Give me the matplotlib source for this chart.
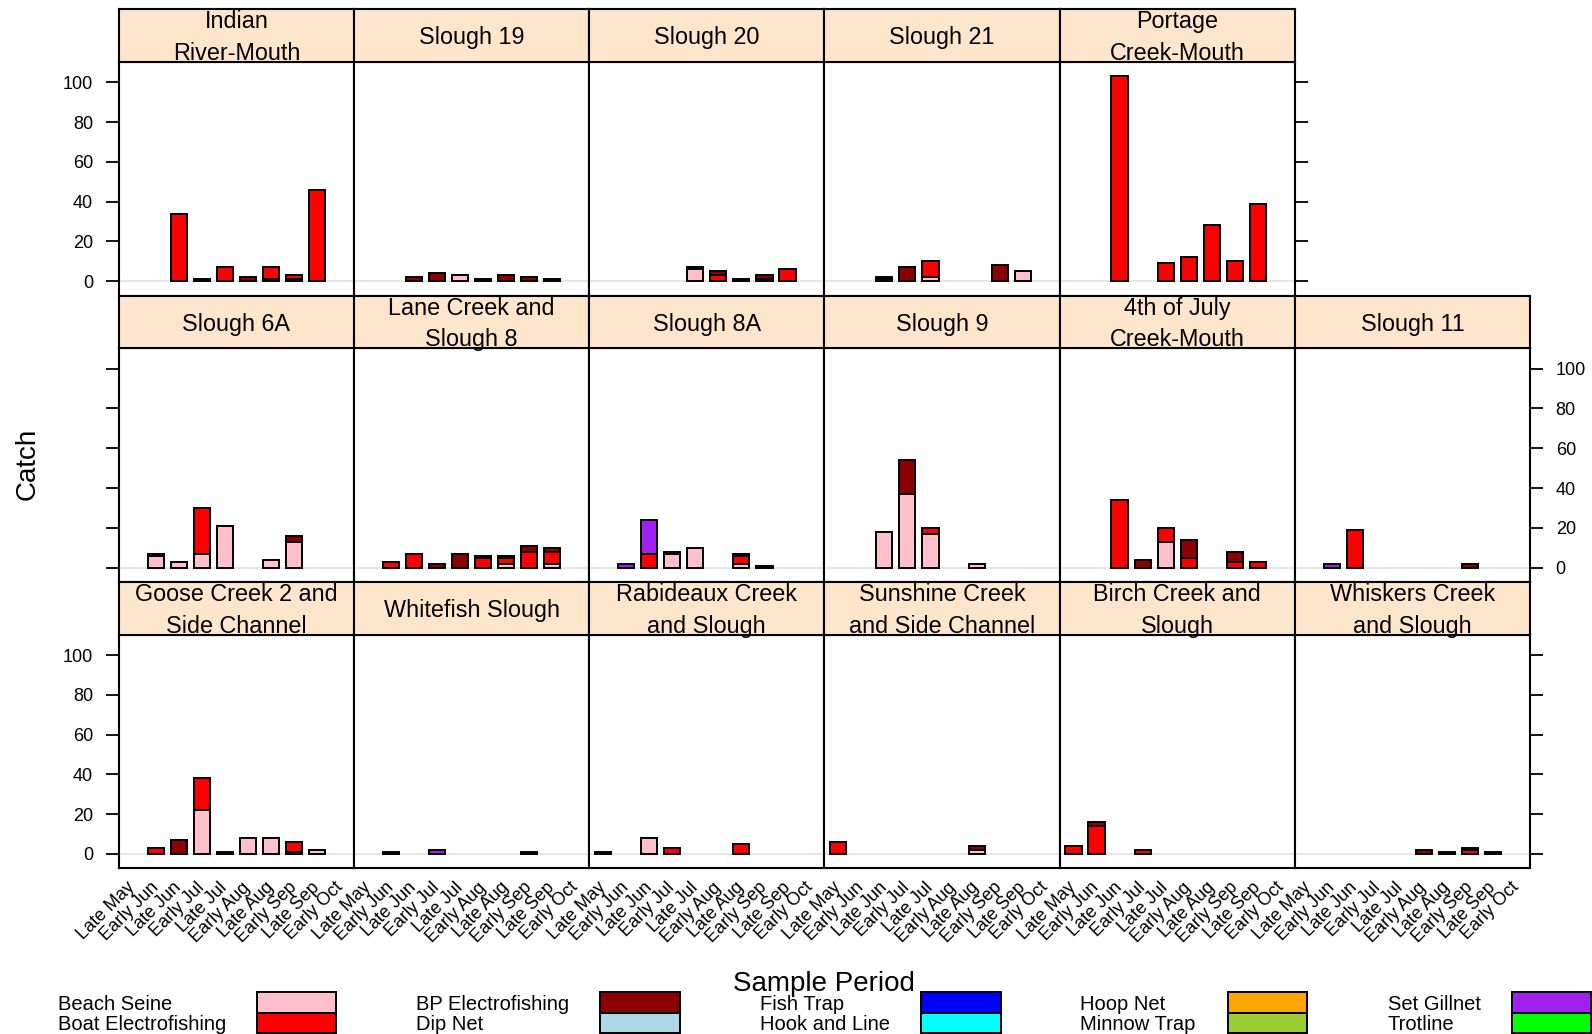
import matplotlib
matplotlib.use("Agg")
import matplotlib.pyplot as plt
import numpy as np
from matplotlib.patches import Rectangle

plt.rcParams["font.family"] = ["Liberation Sans", "DejaVu Sans"]

# sample periods (x categories)
periods = ["Late May", "Early Jun", "Late Jun", "Early Jul", "Late Jul",
           "Early Aug", "Late Aug", "Early Sep", "Late Sep", "Early Oct"]

# gear types, in stacking order, with their colours
gears = ["Beach Seine", "Boat Electrofishing", "BP Electrofishing", "Dip Net",
         "Fish Trap", "Hook and Line", "Hoop Net", "Minnow Trap",
         "Set Gillnet", "Trotline"]
gear_colors = ["#FFC0CB", "#FF0000", "#8B0000", "#ADD8E6", "#0000FF",
               "#00FFFF", "#FFA500", "#9ACD32", "#A020F0", "#00FF00"]

# catch per site: gear -> counts per sample period
indian_river = {
    "Beach Seine":         [0, 0, 0, 0, 0, 0, 1, 1, 0, 0],
    "Boat Electrofishing": [0, 0, 34, 1, 7, 0, 6, 2, 46, 0],
    "BP Electrofishing":   [0, 0, 0, 0, 0, 2, 0, 0, 0, 0],
}
slough_19 = {
    "Beach Seine":         [0, 0, 0, 0, 3, 0, 0, 0, 0, 0],
    "Boat Electrofishing": [0, 0, 0, 0, 0, 1, 0, 0, 1, 0],
    "BP Electrofishing":   [0, 0, 2, 4, 0, 0, 3, 2, 0, 0],
}
slough_20 = {
    "Beach Seine":         [0, 0, 0, 0, 6, 0, 0, 0, 0, 0],
    "Boat Electrofishing": [0, 0, 0, 0, 0, 3, 1, 1, 6, 0],
    "BP Electrofishing":   [0, 0, 0, 0, 1, 2, 0, 2, 0, 0],
}
slough_21 = {
    "Beach Seine":         [0, 0, 0, 0, 2, 0, 0, 0, 5, 0],
    "Boat Electrofishing": [0, 0, 1, 0, 8, 0, 0, 0, 0, 0],
    "BP Electrofishing":   [0, 0, 1, 7, 0, 0, 0, 8, 0, 0],
}
portage_creek = {
    "Boat Electrofishing": [0, 0, 103, 0, 9, 12, 28, 10, 39, 0],
}
slough_6a = {
    "Beach Seine":         [0, 6, 3, 7, 21, 0, 4, 13, 0, 0],
    "Boat Electrofishing": [0, 0, 0, 23, 0, 0, 0, 0, 0, 0],
    "BP Electrofishing":   [0, 1, 0, 0, 0, 0, 0, 3, 0, 0],
}
lane_creek = {
    "Beach Seine":         [0, 0, 0, 0, 0, 0, 2, 0, 2, 0],
    "Boat Electrofishing": [0, 3, 7, 0, 0, 5, 3, 8, 6, 0],
    "BP Electrofishing":   [0, 0, 0, 2, 7, 1, 1, 3, 2, 0],
}
slough_8a = {
    "Beach Seine":         [0, 0, 0, 7, 10, 0, 2, 0, 0, 0],
    "Boat Electrofishing": [0, 0, 7, 0, 0, 0, 4, 1, 0, 0],
    "BP Electrofishing":   [0, 0, 0, 1, 0, 0, 1, 0, 0, 0],
    "Set Gillnet":         [0, 2, 17, 0, 0, 0, 0, 0, 0, 0],
}
slough_9 = {
    "Beach Seine":         [0, 0, 18, 37, 17, 0, 2, 0, 0, 0],
    "Boat Electrofishing": [0, 0, 0, 0, 3, 0, 0, 0, 0, 0],
    "BP Electrofishing":   [0, 0, 0, 17, 0, 0, 0, 0, 0, 0],
}
fourth_of_july = {
    "Beach Seine":         [0, 0, 0, 0, 13, 0, 0, 0, 0, 0],
    "Boat Electrofishing": [0, 0, 34, 0, 7, 5, 0, 3, 3, 0],
    "BP Electrofishing":   [0, 0, 0, 4, 0, 9, 0, 5, 0, 0],
}
slough_11 = {
    "Boat Electrofishing": [0, 0, 19, 0, 0, 0, 0, 0, 0, 0],
    "BP Electrofishing":   [0, 0, 0, 0, 0, 0, 0, 2, 0, 0],
    "Set Gillnet":         [0, 2, 0, 0, 0, 0, 0, 0, 0, 0],
}
goose_creek = {
    "Beach Seine":         [0, 0, 0, 22, 0, 8, 8, 1, 2, 0],
    "Boat Electrofishing": [0, 3, 0, 16, 1, 0, 0, 5, 0, 0],
    "BP Electrofishing":   [0, 0, 7, 0, 0, 0, 0, 0, 0, 0],
}
whitefish = {
    "Boat Electrofishing": [0, 1, 0, 0, 0, 0, 0, 1, 0, 0],
    "Set Gillnet":         [0, 0, 0, 2, 0, 0, 0, 0, 0, 0],
}
rabideaux = {
    "Beach Seine":         [0, 0, 8, 0, 0, 0, 0, 0, 0, 0],
    "Boat Electrofishing": [1, 0, 0, 3, 0, 0, 5, 0, 0, 0],
}
sunshine = {
    "Beach Seine":         [0, 0, 0, 0, 0, 0, 2, 0, 0, 0],
    "Boat Electrofishing": [6, 0, 0, 0, 0, 0, 0, 0, 0, 0],
    "BP Electrofishing":   [0, 0, 0, 0, 0, 0, 2, 0, 0, 0],
}
birch_creek = {
    "Boat Electrofishing": [4, 14, 0, 2, 0, 0, 0, 0, 0, 0],
    "BP Electrofishing":   [0, 2, 0, 0, 0, 0, 0, 0, 0, 0],
}
whiskers_creek = {
    "Boat Electrofishing": [0, 0, 0, 0, 0, 0, 1, 2, 1, 0],
    "BP Electrofishing":   [0, 0, 0, 0, 0, 2, 0, 1, 0, 0],
}

# panels, top row first
rows = [
    [("Indian\nRiver-Mouth", indian_river), ("Slough 19", slough_19),
     ("Slough 20", slough_20), ("Slough 21", slough_21),
     ("Portage\nCreek-Mouth", portage_creek)],
    [("Slough 6A", slough_6a), ("Lane Creek and\nSlough 8", lane_creek),
     ("Slough 8A", slough_8a), ("Slough 9", slough_9),
     ("4th of July\nCreek-Mouth", fourth_of_july), ("Slough 11", slough_11)],
    [("Goose Creek 2 and\nSide Channel", goose_creek),
     ("Whitefish Slough", whitefish),
     ("Rabideaux Creek\nand Slough", rabideaux),
     ("Sunshine Creek\nand Side Channel", sunshine),
     ("Birch Creek and\nSlough", birch_creek),
     ("Whiskers Creek\nand Slough", whiskers_creek)],
]

W, H = 1592, 1034
fig = plt.figure(figsize=(W / 100, H / 100), dpi=100)


def fx(px):
    return px / W


def fy(py):
    return 1 - py / H


left0, pw = 118.8, 235.2
top0, strip_h, panel_h, row_h = 9.1, 52.9, 233.5, 286.4
strip_color = "#FFE5CC"
x = np.arange(len(periods))

for r, row in enumerate(rows):
    for c, (name, data) in enumerate(row):
        s_top = top0 + r * row_h
        p_top = s_top + strip_h
        p_bot = p_top + panel_h
        ax = fig.add_axes([fx(left0 + c * pw), fy(p_bot), fx(pw),
                           (p_bot - p_top) / H])
        bottom = np.zeros(len(periods))
        for gear, color in zip(gears, gear_colors):
            if gear not in data:
                continue
            vals = np.array(data[gear], dtype=float)
            m = vals > 0
            ax.bar(x[m], vals[m], bottom=bottom[m], width=0.7, color=color,
                   edgecolor="black", linewidth=1.4, zorder=3)
            bottom += vals
        ax.axhline(0, color="#E6E6E6", lw=1.5, zorder=1)
        ax.set_xlim(-0.6, 9.6)
        ax.set_ylim(-7.21, 110.21)
        for sp in ax.spines.values():
            sp.set_linewidth(1.5)

        ax.set_yticks([0, 20, 40, 60, 80, 100])
        first, last = c == 0, c == len(row) - 1
        ax.tick_params(axis="y", direction="out", length=9.5, width=1.3,
                       labelsize=13, pad=9,
                       left=first, right=last,
                       labelleft=first and r != 1,
                       labelright=last and r == 1)
        ax.set_xticks(x)
        if r == 2:
            ax.set_xticklabels(periods, rotation=45, ha="right",
                               va="center", rotation_mode="anchor",
                               fontsize=13)
            ax.tick_params(axis="x", length=0, pad=12)
        else:
            ax.tick_params(axis="x", length=0, labelbottom=False)

        sax = fig.add_axes([fx(left0 + c * pw), fy(p_top), fx(pw),
                            strip_h / H])
        sax.set_facecolor(strip_color)
        sax.set_xticks([])
        sax.set_yticks([])
        for sp in sax.spines.values():
            sp.set_linewidth(1.5)
        sax.text(0.5, 0.46, name, ha="center", va="center", fontsize=16.8,
                 linespacing=1.48, transform=sax.transAxes)

fig.text(fx(27.4), fy(464), "Catch", rotation=90, ha="center",
         va="center", fontsize=20)
fig.text(fx(824.4), fy(984), "Sample Period", ha="center", va="center",
         fontsize=20)

# legend: label on the left, colour box on the right, two rows per column
text_x = [57.9, 416.3, 760.5, 1080.3, 1388.0]
box_x = [256.9, 600.0, 921.0, 1227.5, 1511.8]
box_w = 79.5
row_y = [992.3, 1012.6]
box_h = 20.3
for i, (gear, color) in enumerate(zip(gears, gear_colors)):
    col, rr = divmod(i, 2)
    y0 = row_y[rr]
    fig.text(fx(text_x[col]), fy(y0 + box_h / 2 + 2), gear, ha="left",
             va="center", fontsize=14.5)
    fig.add_artist(Rectangle((fx(box_x[col]), fy(y0 + box_h)), fx(box_w),
                             box_h / H, transform=fig.transFigure,
                             facecolor=color, edgecolor="black",
                             linewidth=1.4))

fig.savefig("out.png", dpi=100)
